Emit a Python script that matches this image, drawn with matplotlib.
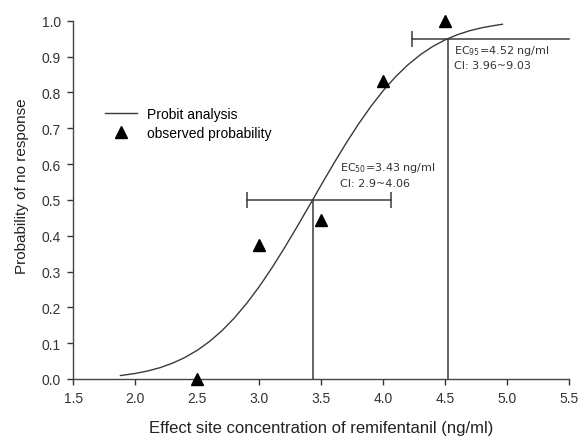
import numpy as np
import matplotlib.pyplot as plt

plt.rcParams['font.family'] = ['Liberation Sans', 'DejaVu Sans']

# probit curve
curve_x = [1.88, 1.9, 2.0, 2.1, 2.2, 2.3, 2.4, 2.5, 2.6, 2.7, 2.8, 2.9, 3.0,
           3.1, 3.2, 3.3, 3.4, 3.5, 3.6, 3.7, 3.8, 3.9, 4.0, 4.1, 4.2, 4.3,
           4.4, 4.5, 4.6, 4.7, 4.8, 4.9, 4.96]
curve_y = [0.0097, 0.0105, 0.0155, 0.0224, 0.0317, 0.0441, 0.0601, 0.0802,
           0.1051, 0.1352, 0.1708, 0.2119, 0.2582, 0.3093, 0.3643, 0.4223,
           0.4820, 0.5421, 0.6013, 0.6582, 0.7117, 0.7609, 0.8052, 0.8440,
           0.8774, 0.9054, 0.9284, 0.9468, 0.9613, 0.9724, 0.9807, 0.9868,
           0.9900]

# observed probabilities
obs_x = [2.5, 3.0, 3.5, 4.0, 4.5]
obs_y = [0.0, 0.375, 0.444, 0.833, 1.0]

# EC50 / EC95 markers
ec50 = 3.43
ec50_ci = [2.9, 4.06]
ec95 = 4.52
ec95_ci = [4.23, 5.5]

fig = plt.figure(figsize=(5.8, 4.39), dpi=100)
ax = fig.add_axes([0.1264, 0.1344, 0.8552, 0.8162])

line_col = '#3a3a3a'

ax.plot(curve_x, curve_y, color=line_col, lw=1.0, label='Probit analysis')
ax.plot(obs_x, obs_y, linestyle='none', marker='^', color='black',
        markersize=8, label='observed probability', clip_on=False, zorder=5)

# EC50
ax.plot([ec50, ec50], [0, 0.5], color=line_col, lw=1.1)
ax.plot(ec50_ci, [0.5, 0.5], color=line_col, lw=1.1)
ax.plot(ec50_ci, [0.5, 0.5], linestyle='none', marker='|', markersize=12,
        markeredgewidth=1.1, color=line_col)
# EC95
ax.plot([ec95, ec95], [0, 0.95], color=line_col, lw=1.1)
ax.plot(ec95_ci, [0.95, 0.95], color=line_col, lw=1.1, clip_on=False)
ax.plot([ec95_ci[0]], [0.95], linestyle='none', marker='|', markersize=12,
        markeredgewidth=1.1, color=line_col)

ax.text(3.65, 0.592, 'EC$_{50}$=3.43 ng/ml', fontsize=8, color='#333333',
        family=['DejaVu Sans'], va='center')
ax.text(3.65, 0.548, 'CI: 2.9~4.06', fontsize=8, color='#333333',
        family=['DejaVu Sans'], va='center')
ax.text(4.57, 0.918, 'EC$_{95}$=4.52 ng/ml', fontsize=8, color='#333333',
        family=['DejaVu Sans'], va='center')
ax.text(4.57, 0.877, 'CI: 3.96~9.03', fontsize=8, color='#333333',
        family=['DejaVu Sans'], va='center')

ax.set_xlim(1.5, 5.5)
ax.set_ylim(0, 1.0)
ax.set_xticks(np.arange(1.5, 5.51, 0.5))
ax.set_yticks(np.arange(0, 1.01, 0.1))
ax.set_xticklabels(['%.1f' % v for v in np.arange(1.5, 5.51, 0.5)])
ax.set_yticklabels(['%.1f' % v for v in np.arange(0, 1.01, 0.1)])
ax.tick_params(direction='out', length=4, width=1, colors='#333333',
               labelsize=10, pad=5)
for s in ['top', 'right']:
    ax.spines[s].set_visible(False)
for s in ['left', 'bottom']:
    ax.spines[s].set_color('#444444')
    ax.spines[s].set_linewidth(1.0)

ax.set_xlabel('Effect site concentration of remifentanil (ng/ml)', fontsize=12,
              color='#222222')
ax.set_ylabel('Probability of no response', fontsize=11, color='#222222')
ax.xaxis.set_label_coords(0.5, -0.114)
ax.yaxis.set_label_coords(-0.089, 0.54)

ax.legend(loc='center left', bbox_to_anchor=(0.064, 0.713), frameon=False,
          fontsize=10, borderpad=0, borderaxespad=0, handlelength=2.3,
          handletextpad=0.7, labelspacing=0.4)

fig.savefig('out.png', dpi=100)
